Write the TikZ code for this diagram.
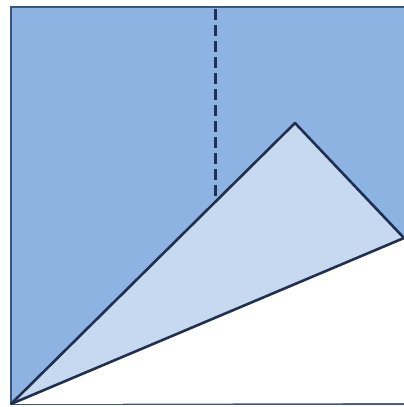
\documentclass[tikz,border=0pt]{standalone}
\usepackage{tikz}
\usetikzlibrary{calc}
\definecolor{paperdark}{HTML}{8DB3E2}
\definecolor{paperlight}{HTML}{C6D9F1}
\definecolor{edgeblue}{HTML}{3A5680}
\definecolor{foldline}{HTML}{1F3050}
\tikzset{foldedge/.style={foldline, line width=2.6pt, line join=round},
  creaseline/.style={foldline, line width=3pt, dash pattern=on 11pt off 5pt}}

\begin{document}
\begin{tikzpicture}[x=1pt, y=-1pt]
  \useasboundingbox (0,0) rectangle (404,407);
  \clip (0,0) rectangle (404,407);
  % sheet of paper, right edge runs off the picture.
  \coordinate (corner) at (11,404);
  \coordinate (apex) at (295,123);
  \coordinate (tip) at (404,238);
  \fill[white] (0,0) rectangle (404,407);
  \fill[paperdark] (11,7) rectangle (420,404);
  \draw[edgeblue, line width=2.4pt] (420,7) -- (11,7) -- (11,404) -- (420,404);
  % uncovered part below the fold.
  \fill[white] (corner) -- ($(corner)!1.1!(tip)$) -- (450,403) -- cycle;
  % folded flap.
  \fill[paperlight] (corner) -- (apex) -- (tip) -- cycle;
  \draw[creaseline] (215,9) -- (215,201);
  \draw[foldedge] (corner) -- (apex) -- (tip);
  \draw[foldedge] (corner) -- (tip);
\end{tikzpicture}
\end{document}
